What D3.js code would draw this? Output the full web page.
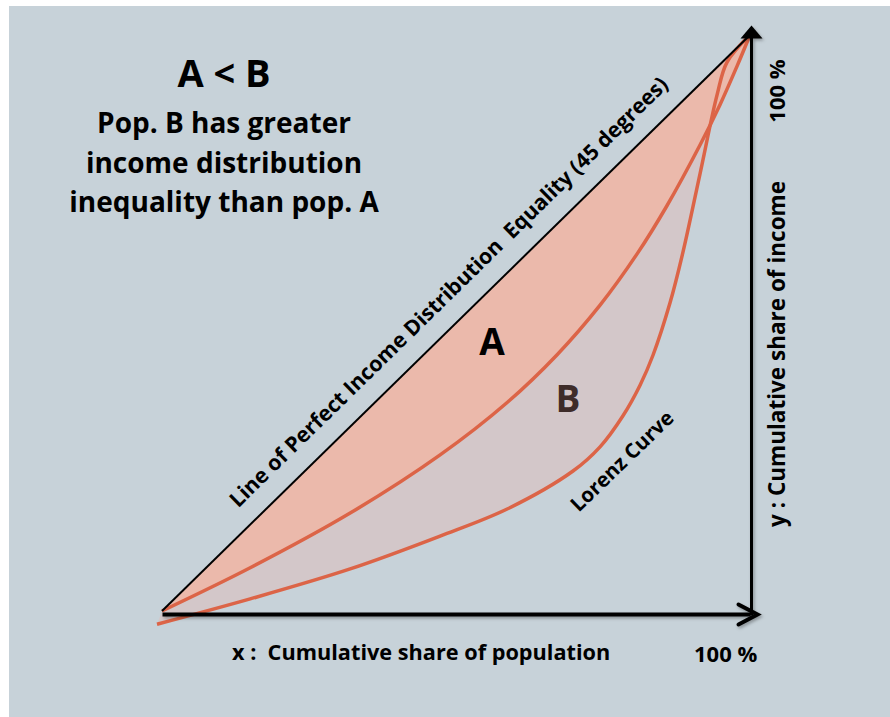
<!DOCTYPE html>
<meta charset="utf-8">
<style>
body { margin: 0; background: #fff; }
text { font-family: "Open Sans", Lato, sans-serif; font-weight: bold; fill: #000; }
</style>
<body>
<script src="https://d3js.org/d3.v7.min.js"></script>
<script>

// cumulative share of population (x) vs cumulative share of income (y), in %
var diagonal = [[0, 0], [100, 100]];
var curveA = [[0, 0], [15, 7.5], [32, 17], [47.3, 27.1], [58.7, 36.2], [67.2, 44.5],
  [74.5, 53.1], [80.8, 62], [85.9, 70.4], [91.5, 80.9], [94.9, 87.9], [97.8, 94.6], [100, 100]];
var curveB = [[-0.85, -2.3], [15, 2.1], [32, 7.3], [47.3, 13], [58.7, 17.7], [69.9, 24.3],
  [74.5, 28.5], [78.4, 33.9], [81.3, 39.2], [83.5, 44.4], [86.4, 53.5], [88.6, 62.3],
  [91.5, 75.9], [94.4, 89.6], [96.1, 95.3], [100, 100]];

var titleLines = ["Pop. B has greater", "income distribution", "inequality than pop. A"];
var xLabel = "x :  Cumulative share of population";
var yLabel = "y : Cumulative share of income";
var maxLabel = "100 %";
var diagLabel = "Line of Perfect Income Distribution  Equality (45 degrees)";

var width = 890, height = 717;

var svg = d3.select("body").append("svg")
    .attr("width", width)
    .attr("height", height);

// panel background
svg.append("rect")
    .attr("x", 9).attr("y", 6)
    .attr("width", width - 9).attr("height", height - 6)
    .attr("fill", "#c7d2d9");

// scales
var x = d3.scaleLinear().domain([0, 100]).range([162, 750]);
var y = d3.scaleLinear().domain([0, 100]).range([611, 35]);

var line = d3.line()
    .x(function(d) { return x(d[0]); })
    .y(function(d) { return y(d[1]); })
    .curve(d3.curveCatmullRom.alpha(0.5));

// arrow markers + axis shadow
var defs = svg.append("defs");
defs.append("filter")
    .attr("id", "shadow")
    .attr("filterUnits", "userSpaceOnUse")
    .attr("x", -1000).attr("y", -1000).attr("width", 3000).attr("height", 3000)
  .append("feDropShadow")
    .attr("dx", 1.5).attr("dy", 2)
    .attr("stdDeviation", 1.5)
    .attr("flood-color", "#000")
    .attr("flood-opacity", 0.3);
defs.append("marker")
    .attr("id", "chevron")
    .attr("markerUnits", "userSpaceOnUse")
    .attr("viewBox", "-25 -15 30 30")
    .attr("markerWidth", 30).attr("markerHeight", 30)
    .attr("refX", -7).attr("refY", 0)
    .attr("orient", "auto")
    .style("overflow", "visible")
  .append("path")
    .attr("d", "M-19,-10L0,0L-19,10")
    .attr("fill", "none")
    .attr("stroke", "#000")
    .attr("stroke-width", 4)
    .attr("stroke-linecap", "round");
defs.append("marker")
    .attr("id", "tri")
    .attr("markerUnits", "userSpaceOnUse")
    .attr("viewBox", "-25 -15 30 30")
    .attr("markerWidth", 30).attr("markerHeight", 30)
    .attr("refX", -10).attr("refY", 0)
    .attr("orient", "auto")
    .style("overflow", "visible")
  .append("path")
    .attr("d", "M-13,-11L0,0L-13,11Z")
    .attr("fill", "#000");

// area B (between the two Lorenz curves)
var revA = curveA.slice().reverse();
svg.append("path")
    .attr("d", line(curveB) + line(revA).replace(/^M/, "L") + "Z")
    .attr("fill", "#d3c7c9");

// area A (between equality line and curve A)
svg.append("path")
    .attr("d", line(curveA) + "Z")
    .attr("fill", "#ebb9ab");

// Lorenz curves
[curveA, curveB].forEach(function(c) {
  svg.append("path")
      .attr("d", line(c))
      .attr("fill", "none")
      .attr("stroke", "#dc6447")
      .attr("stroke-width", 3.5);
});

// line of equality
svg.append("path")
    .attr("d", d3.line().x(function(d) { return x(d[0]); }).y(function(d) { return y(d[1]); })(diagonal))
    .attr("fill", "none")
    .attr("stroke", "#000")
    .attr("stroke-width", 2);

// axes
var xAxis = svg.append("g")
    .attr("transform", "translate(0,614)")
    .call(d3.axisBottom(x).tickValues([]).tickSizeOuter(0));
xAxis.select(".domain")
    .attr("stroke", "#000")
    .attr("stroke-width", 4)
    .attr("filter", "url(#shadow)")
    .attr("marker-end", "url(#chevron)");

var yAxis = svg.append("g")
    .attr("transform", "translate(751,0)")
    .call(d3.axisRight(d3.scaleLinear().domain([0, 100]).range([615, 35])).tickValues([]).tickSizeOuter(0));
yAxis.select(".domain")
    .attr("stroke", "#000")
    .attr("stroke-width", 3)
    .attr("filter", "url(#shadow)")
    .attr("marker-end", "url(#tri)");

// title
svg.append("text")
    .attr("x", 224).attr("y", 87)
    .attr("text-anchor", "middle")
    .style("font-size", "38px")
    .text("A < B");
svg.selectAll(".title")
    .data(titleLines)
  .enter().append("text")
    .attr("class", "title")
    .attr("x", 224)
    .attr("y", function(d, i) { return 133 + i * 39.5; })
    .attr("text-anchor", "middle")
    .style("font-size", "28px")
    .text(function(d) { return d; });

// area labels
svg.append("text")
    .attr("x", 492).attr("y", 355)
    .attr("text-anchor", "middle")
    .style("font-size", "37px")
    .text("A");
svg.append("text")
    .attr("x", 568).attr("y", 412)
    .attr("text-anchor", "middle")
    .style("font-size", "37px")
    .style("fill", "#3e2c29")
    .text("B");

// diagonal label, sitting just above the equality line
var ang = Math.atan2(y(100) - y(0), x(100) - x(0)) * 180 / Math.PI;
svg.append("text")
    .attr("transform", "translate(" + x(52) + "," + y(52) + ") rotate(" + ang + ")")
    .attr("y", -20)
    .attr("text-anchor", "middle")
    .style("font-size", "21.3px")
    .style("white-space", "pre")
    .text(diagLabel);

svg.append("text")
    .attr("transform", "translate(622,461) rotate(-44)")
    .attr("text-anchor", "middle")
    .attr("dy", "0.35em")
    .style("font-size", "20.5px")
    .text("Lorenz Curve");

// axis labels
svg.append("text")
    .attr("x", 232).attr("y", 660)
    .style("font-size", "21.7px")
    .style("white-space", "pre")
    .text(xLabel);
svg.append("text")
    .attr("x", 694).attr("y", 662)
    .style("font-size", "22px")
    .text(maxLabel);
svg.append("text")
    .attr("transform", "translate(785,354) rotate(-90)")
    .attr("text-anchor", "middle")
    .style("font-size", "22.5px")
    .text(yLabel);
svg.append("text")
    .attr("transform", "translate(785,91) rotate(-90)")
    .attr("text-anchor", "middle")
    .style("font-size", "22px")
    .text(maxLabel);

</script>
</body>
